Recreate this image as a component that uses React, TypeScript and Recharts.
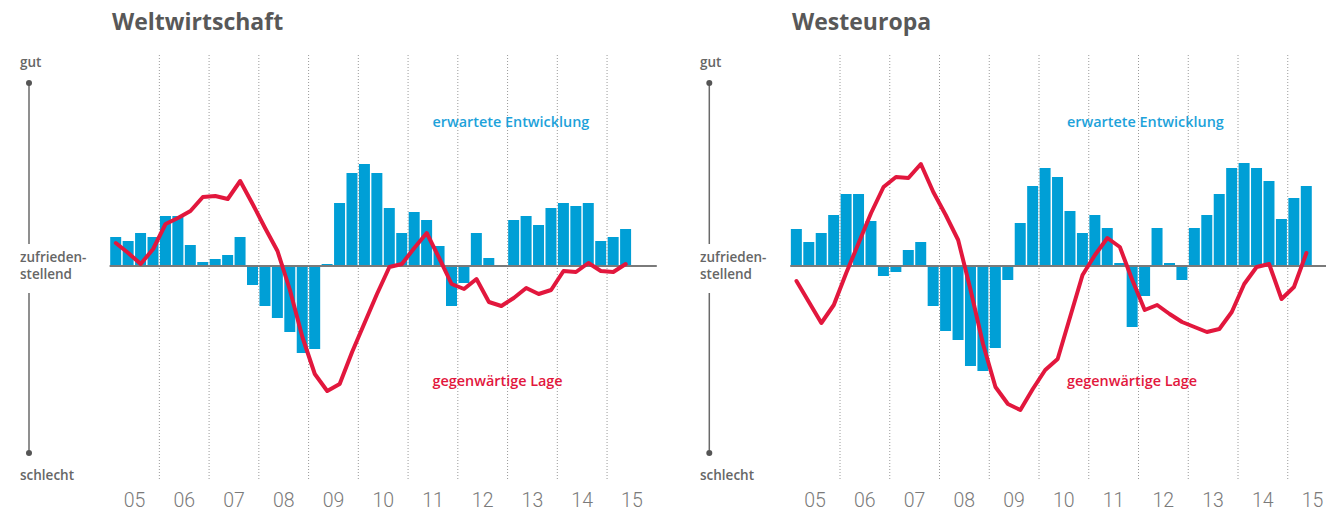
import React from 'react';
import { ComposedChart, Bar, Line, XAxis, YAxis, ReferenceLine } from 'recharts';

// ---------- data ----------
const yearLabels = ['05', '06', '07', '08', '09', '10', '11', '12', '13', '14', '15'];
const quarterNames = ['Q1', 'Q2', 'Q3', 'Q4'];
const quarterLabels = yearLabels.flatMap((y) => quarterNames.map((q) => `${y}-${q}`));

// Weltwirtschaft
const worldExpected = [
  29, 25, 33, 29,
  50, 50, 21, 4,
  7, 11, 29, -19,
  -40, -52, -66, -87,
  -83, 2, 63, 93,
  102, 93, 58, 33,
  54, 46, 20, -40,
  -17, 33, 8, 0,
  46, 50, 41, 58,
  63, 60, 63, 25,
  29, 37,
];
const worldCurrent = [
  23, 13, 2, 17,
  42, 48, 55, 69,
  70, 67, 85, 62,
  38, 15, -24, -71,
  -108, -125, -118, -86,
  -57, -28, -1, 2,
  18, 33, 8, -18,
  -23, -13, -36, -40,
  -32, -22, -28, -24,
  -5, -6, 3, -5,
  -6, 2,
];

// Westeuropa
const westExpected = [
  37, 24, 33, 51,
  72, 72, 45, -10,
  -6, 16, 24, -40,
  -65, -74, -100, -105,
  -82, -14, 43, 80,
  98, 89, 55, 33,
  51, 38, 3, -61,
  -30, 38, 3, -14,
  38, 51, 72, 98,
  103, 98, 85, 47,
  68, 80,
];
const westCurrent = [
  -15, -36, -57, -39,
  -7, 23, 53, 79,
  89, 88, 102, 74,
  51, 26, -24, -78,
  -121, -138, -144, -123,
  -104, -93, -51, -9,
  11, 28, 19, -14,
  -44, -39, -48, -56,
  -61, -66, -63, -46,
  -18, -1, 2, -33,
  -21, 13,
];

const Y_DOMAIN: [number, number] = [-213, 213];

// ---------- styles ----------
const BLUE = '#009fd6';
const BLUE_TEXT = '#1da2da';
const RED = '#e2173d';
const GRAY_TEXT = '#666666';
const TITLE_GRAY = '#585858';
const YEAR_GRAY = '#7a7a7a';
const LABEL_FONT = '"Open Sans", "Noto Sans", sans-serif';

function buildRows(exp: number[], cur: number[]) {
  return quarterLabels.map((q, i) => ({
    q,
    exp: i < exp.length ? exp[i] : null,
    cur: i < cur.length ? cur[i] : null,
  }));
}

const nQuarters = quarterLabels.length;
// first quarter of every year after the first: year boundaries
const yearStarts = yearLabels.slice(1).map((y) => `${y}-Q1`);

type PanelProps = {
  title: string;
  exp: number[];
  cur: number[];
  left: number;
  chartWidth: number;
  marginLeft: number;
  marginRight: number;
  titleX: number;
  axisX: number;
  axisLabelX: number;
  legendX: number;
};

function Panel(p: PanelProps) {
  const rows = buildRows(p.exp, p.cur);
  const band = (p.chartWidth - p.marginLeft - p.marginRight) / nQuarters;

  // Year label drawn at the end of the year's 2nd quarter = middle of the year
  const YearTick = (props: any) => {
    const { x, y, payload } = props;
    const v: string = payload && payload.value;
    if (!v || !v.endsWith('Q2')) return <g />;
    const off = payload.offset != null ? payload.offset : band / 2;
    return (
      <text
        x={x + off}
        y={y}
        dy="0.71em"
        textAnchor="middle"
        fill={YEAR_GRAY}
        fontSize={19.5}
        fontFamily="Roboto, sans-serif"
        fontWeight={300}
      >
        {v.slice(0, 2)}
      </text>
    );
  };

  return (
    <div style={{ position: 'absolute', left: p.left, top: 0, width: 663, height: 516, overflow: 'hidden' }}>
      <ComposedChart
        width={p.chartWidth}
        height={516}
        data={rows}
        margin={{ top: 53, right: p.marginRight, bottom: 7, left: p.marginLeft }}
        barCategoryGap={0.6}
      >
        <XAxis
          xAxisId="cat"
          dataKey="q"
          type="category"
          interval={0}
          axisLine={false}
          tickLine={false}
          height={30}
          tickMargin={8}
          tick={<YearTick />}
        />
        <YAxis yAxisId="v" type="number" domain={Y_DOMAIN} hide width={0} allowDataOverflow />
        {yearStarts.map((q) => (
          <ReferenceLine
            key={q}
            x={q}
            position="start"
            xAxisId="cat"
            yAxisId="v"
            stroke="#9a9a9a"
            strokeWidth={1}
            strokeDasharray="1 2"
          />
        ))}
        <Bar xAxisId="cat" yAxisId="v" dataKey="exp" fill={BLUE} isAnimationActive={false} />
        <ReferenceLine y={0} xAxisId="cat" yAxisId="v" stroke="#7a7a7a" strokeWidth={2} />
        <Line
          xAxisId="cat"
          yAxisId="v"
          dataKey="cur"
          type="linear"
          stroke={RED}
          strokeWidth={4}
          strokeLinejoin="round"
          strokeLinecap="round"
          dot={false}
          activeDot={false}
          connectNulls={false}
          isAnimationActive={false}
        />
      </ComposedChart>
      <svg
        width={663}
        height={516}
        style={{ position: 'absolute', left: 0, top: 0, pointerEvents: 'none' }}
      >
        <text x={p.titleX} y={30} fill={TITLE_GRAY} fontFamily={LABEL_FONT} fontWeight={700} fontSize={23}>
          {p.title}
        </text>
        <g fill={GRAY_TEXT} fontFamily={LABEL_FONT} fontWeight={600} fontSize={13.5}>
          <text x={p.axisLabelX} y={67}>gut</text>
          <text x={p.axisLabelX} y={262}>zufrieden-</text>
          <text x={p.axisLabelX} y={279}>stellend</text>
          <text x={p.axisLabelX} y={480}>schlecht</text>
        </g>
        <g stroke="#6a6a6a" strokeWidth={1.5}>
          <line x1={p.axisX} y1={83} x2={p.axisX} y2={244} />
          <line x1={p.axisX} y1={293} x2={p.axisX} y2={453} />
        </g>
        <circle cx={p.axisX} cy={83} r={3} fill="#555" />
        <circle cx={p.axisX} cy={453} r={3} fill="#555" />
        <text x={p.legendX} y={127} fill={BLUE_TEXT} fontFamily={LABEL_FONT} fontWeight={600} fontSize={14.4}>
          erwartete Entwicklung
        </text>
        <text x={p.legendX} y={386} fill={RED} fontFamily={LABEL_FONT} fontWeight={600} fontSize={14.4}>
          gegenwärtige Lage
        </text>
      </svg>
    </div>
  );
}

export default function App() {
  return (
    <div
      style={{
        position: 'absolute',
        left: 0,
        top: 0,
        width: 1326,
        height: 516,
        overflow: 'hidden',
        background: '#ffffff',
      }}
    >
      <Panel
        title="Weltwirtschaft"
        exp={worldExpected}
        cur={worldCurrent}
        left={0}
        chartWidth={663}
        marginLeft={109.6}
        marginRight={6.2}
        titleX={112}
        axisX={29}
        axisLabelX={20}
        legendX={432.5}
      />
      <Panel
        title="Westeuropa"
        exp={westExpected}
        cur={westCurrent}
        left={663}
        chartWidth={680}
        marginLeft={127.25}
        marginRight={5.5}
        titleX={129}
        axisX={46.3}
        axisLabelX={37}
        legendX={404}
      />
    </div>
  );
}
